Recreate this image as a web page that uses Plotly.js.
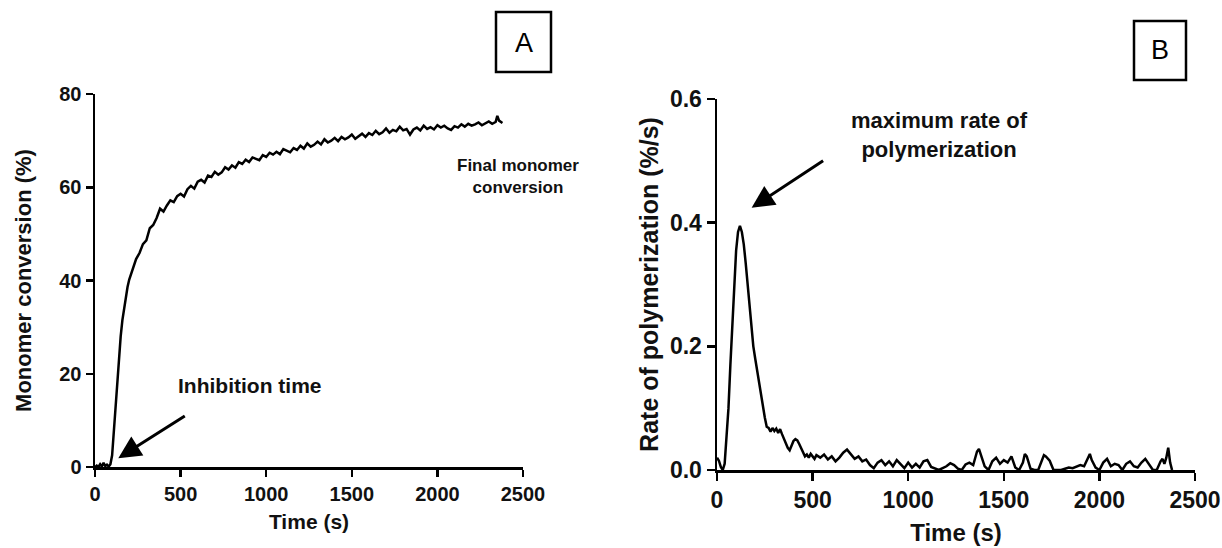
<!DOCTYPE html>
<html>
<head>
<meta charset="utf-8">
<script src="https://cdn.plot.ly/plotly-3.0.1.min.js"></script>
<style>html,body{margin:0;padding:0;background:#fff;}#chart{width:1222px;height:548px;}</style>
</head>
<body>
<div id="chart"></div>
<script>
// Panel A: monomer conversion (%) vs time (s)
const timeA = [0,10,20,30,40,50,60,70,80,90,100,110,120,130,140,150,160,170,180,190,
200,220,240,260,280,300,320,340,360,380,400,420,440,460,480,500,520,540,560,580,
600,620,640,660,680,700,720,740,760,780,800,820,840,860,880,900,920,940,960,980,
1000,1020,1040,1060,1080,1100,1120,1140,1160,1180,1200,1220,1240,1260,1280,1300,1320,1340,1360,1380,
1400,1420,1440,1460,1480,1500,1520,1540,1560,1580,1600,1620,1640,1660,1680,1700,1720,1740,1760,1780,
1800,1820,1840,1860,1880,1900,1920,1940,1960,1980,2000,2020,2040,2060,2080,2100,2120,2140,2160,2180,
2200,2220,2240,2260,2280,2300,2320,2340,2350,2360,2380];
const conversionA = [0,0.3,0,0.6,0.1,0.9,0.2,0.5,0.1,0.6,2.5,8,13.5,19,24,28,31.5,34.2,36.3,38.6,
40.2,42.4,44.6,45.9,47.8,48.6,51.2,51.9,53.4,55.4,54.8,56.1,57.2,56.8,58.1,58.6,58.0,59.6,60.3,59.7,
61.2,61.6,61.0,62.5,62.2,63.3,62.7,63.2,64.3,63.8,64.7,64.2,65.4,65.0,65.9,65.4,66.4,66.1,65.8,66.9,
66.5,67.4,67.0,67.6,67.1,68.2,67.9,67.5,68.4,68.0,68.9,68.3,69.4,68.7,69.1,69.8,69.2,70.3,69.6,70.0,
70.6,69.9,70.8,70.3,70.7,71.3,70.4,70.9,71.5,70.8,71.6,71.2,72.1,71.4,71.8,72.6,71.7,72.3,72.0,73.0,
72.2,72.5,71.3,72.4,72.8,72.2,73.2,72.5,72.9,72.4,73.3,72.8,73.2,72.6,72.3,73.1,72.8,73.5,73.0,73.6,
73.2,73.5,73.9,73.3,73.7,74.1,73.6,74.0,75.3,74.3,73.8];

// Panel B: rate of polymerization (%/s) vs time (s)
const timeB = [0,10,20,30,40,50,60,70,80,90,100,110,120,130,140,150,160,170,180,190,
200,210,220,230,240,250,260,270,280,290,300,310,320,330,340,350,360,370,380,390,
400,410,420,430,440,450,460,470,480,490,500,510,520,540,560,580,600,620,640,660,
680,700,720,740,760,780,800,820,840,860,880,900,920,940,960,980,1000,1020,1040,1060,
1080,1100,1120,1140,1160,1180,1200,1220,1240,1260,1280,1300,1320,1340,1360,1370,1380,1400,1420,1440,
1460,1480,1500,1520,1540,1560,1580,1600,1610,1620,1640,1660,1680,1700,1710,1720,1740,1760,1780,1800,
1820,1840,1860,1880,1900,1920,1940,1950,1960,1980,2000,2020,2040,2060,2080,2100,2120,2140,2160,2180,
2200,2220,2240,2260,2280,2300,2320,2330,2340,2350,2360,2370,2380];
const rateB = [0.02,0.015,0.005,0.0,0.01,0.05,0.1,0.17,0.24,0.3,0.355,0.385,0.395,0.385,0.365,0.335,0.3,0.27,0.23,0.2,
0.18,0.16,0.14,0.118,0.1,0.085,0.07,0.068,0.062,0.068,0.063,0.067,0.06,0.066,0.058,0.05,0.044,0.036,0.032,0.04,
0.047,0.05,0.048,0.042,0.035,0.028,0.022,0.025,0.02,0.026,0.022,0.018,0.024,0.02,0.025,0.017,0.022,0.014,0.02,0.028,
0.033,0.026,0.018,0.022,0.014,0.017,0.008,0.003,0.012,0.016,0.008,0.014,0.006,0.016,0.009,0.003,0.012,0.004,0.01,0.004,
0.014,0.016,0.005,0.002,0.0,0.003,0.006,0.011,0.008,0.002,0.0,0.009,0.012,0.008,0.03,0.034,0.025,0.006,0.0,0.014,
0.02,0.01,0.016,0.012,0.022,0.004,0.0,0.012,0.026,0.022,0.002,0.0,0.0,0.018,0.024,0.022,0.015,0.0,0.0,0.0,
0.002,0.004,0.003,0.005,0.008,0.006,0.02,0.026,0.016,0.004,0.0,0.012,0.018,0.006,0.01,0.008,0.0,0.01,0.014,0.006,
0.004,0.012,0.018,0.01,0.0,0.0,0.014,0.018,0.01,0.02,0.036,0.012,0.0];

const xTicks = [0,500,1000,1500,2000,2500];
const yTicksA = [0,20,40,60,80];
const yTicksB = [0,0.2,0.4,0.6];

const W = 1222, H = 548;
const px = v => v / W;
const py = v => 1 - v / H;
const FONT = 'Liberation Sans, Arial, sans-serif';
const bold = s => '<b>' + s + '</b>';

const lineStyle = {color: '#000', width: 2.5};

const traces = [
  {x: timeA, y: conversionA, xaxis: 'x', yaxis: 'y', mode: 'lines', line: lineStyle, hoverinfo: 'skip'},
  {x: timeB, y: rateB, xaxis: 'x2', yaxis: 'y2', mode: 'lines', line: lineStyle, hoverinfo: 'skip'}
];

function axisBase(extra) {
  return Object.assign({
    showgrid: false, zeroline: false, showline: true, linecolor: '#000', linewidth: 2.5,
    ticks: 'outside', tickcolor: '#000', tickwidth: 2.5, ticklen: 7,
    mirror: false, fixedrange: true, automargin: false
  }, extra);
}

const layout = {
  width: W, height: H,
  margin: {l: 0, r: 0, t: 0, b: 0},
  paper_bgcolor: '#fff', plot_bgcolor: 'rgba(0,0,0,0)',
  showlegend: false,
  font: {family: FONT, color: '#000'},
  xaxis: axisBase({
    domain: [px(95), px(523)], anchor: 'y', range: [0, 2500],
    tickvals: xTicks, ticktext: xTicks.map(v => bold(String(v))),
    tickfont: {family: FONT, size: 20, color: '#111', weight: 'bold'},
    title: {text: bold('Time (s)'), font: {family: FONT, size: 21, color: '#111'}, standoff: 11}
  }),
  yaxis: axisBase({
    domain: [py(467), py(94)], anchor: 'x', range: [0, 80],
    tickvals: yTicksA, ticktext: yTicksA.map(v => bold(String(v))),
    tickfont: {family: FONT, size: 20, color: '#111', weight: 'bold'},
    title: {text: bold('Monomer conversion (%)'), font: {family: FONT, size: 22, color: '#111'}, standoff: 22}
  }),
  xaxis2: axisBase({
    domain: [px(717), px(1195)], anchor: 'y2', range: [0, 2500],
    tickvals: xTicks, ticktext: xTicks.map(v => bold(String(v))), ticklen: 8,
    tickfont: {family: FONT, size: 23, color: '#111', weight: 'bold'},
    title: {text: bold('Time (s)'), font: {family: FONT, size: 24, color: '#111'}, standoff: 12}
  }),
  yaxis2: axisBase({
    domain: [py(470), py(99)], anchor: 'x2', range: [0, 0.6],
    tickvals: yTicksB, ticktext: yTicksB.map(v => bold(v.toFixed(1))), ticklen: 8,
    tickfont: {family: FONT, size: 23, color: '#111', weight: 'bold'},
    title: {text: bold('Rate of polymerization (%/s)'), font: {family: FONT, size: 25, color: '#111'}, standoff: 4}
  }),
  shapes: [
    {type: 'rect', xref: 'paper', yref: 'paper', x0: px(496), x1: px(551), y0: py(72), y1: py(12), line: {color: '#000', width: 2.5}},
    {type: 'rect', xref: 'paper', yref: 'paper', x0: px(1134), x1: px(1186), y0: py(80), y1: py(21), line: {color: '#000', width: 2.5}}
  ],
  annotations: [
    {xref: 'paper', yref: 'paper', x: px(523.5), y: py(43), text: 'A', showarrow: false, font: {family: FONT, size: 27, color: '#000'}, xanchor: 'center', yanchor: 'middle'},
    {xref: 'paper', yref: 'paper', x: px(1160), y: py(50), text: 'B', showarrow: false, font: {family: FONT, size: 27, color: '#000'}, xanchor: 'center', yanchor: 'middle'},
    {xref: 'paper', yref: 'paper', x: px(249), y: py(385), text: bold('Inhibition time'), showarrow: false, font: {family: FONT, size: 21, color: '#111'}, xanchor: 'center', yanchor: 'middle'},
    {xref: 'paper', yref: 'paper', x: px(518), y: py(176), text: bold('Final monomer<br>conversion'), showarrow: false, font: {family: FONT, size: 17, color: '#111'}, xanchor: 'center', yanchor: 'middle', align: 'center'},
    {xref: 'paper', yref: 'paper', x: px(939), y: py(135), text: bold('maximum rate of<br>polymerization'), showarrow: false, font: {family: FONT, size: 22, color: '#111'}, xanchor: 'center', yanchor: 'middle', align: 'center'},
    {xref: 'x', yref: 'y', x: 136, y: 1.9, axref: 'pixel', ayref: 'pixel', ax: 68, ay: -43, text: '', showarrow: true, arrowhead: 2, arrowsize: 1.5, arrowwidth: 3, arrowcolor: '#000', standoff: 0},
    {xref: 'x2', yref: 'y2', x: 181, y: 0.424, axref: 'pixel', ayref: 'pixel', ax: 73, ay: -48, text: '', showarrow: true, arrowhead: 2, arrowsize: 1.5, arrowwidth: 3, arrowcolor: '#000', standoff: 0}
  ]
};

Plotly.newPlot('chart', traces, layout, {staticPlot: true, displayModeBar: false});
</script>
</body>
</html>
